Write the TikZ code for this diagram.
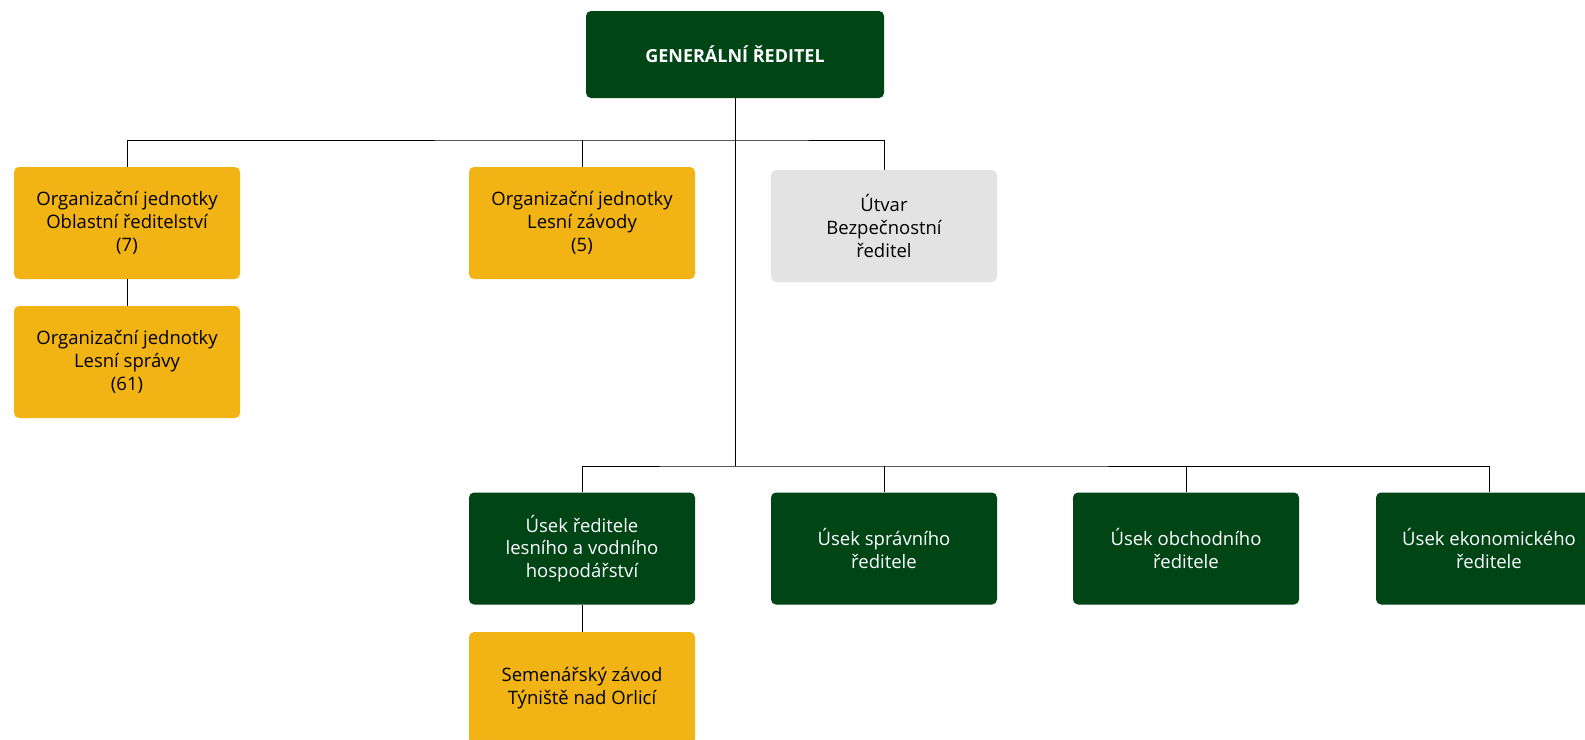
\documentclass[tikz,border=0pt]{standalone}
\usepackage{fontspec}
\setmainfont{Open Sans}
\definecolor{lcrgreen}{HTML}{004515}
\definecolor{lcryellow}{HTML}{F1B414}
\definecolor{lcrgray}{HTML}{E3E3E3}
\tikzset{
  unit/.style={rounded corners=5pt, minimum width=226pt, minimum height=112pt,
    align=center, font=\fontsize{18.5}{22.8}\selectfont, inner sep=0pt},
  greenbox/.style={unit, fill=lcrgreen, text=white},
  yellowbox/.style={unit, fill=lcryellow, text=black},
  graybox/.style={unit, fill=lcrgray, text=black},
  link/.style={draw=black, line width=0.9pt}
}
\begin{document}
\begin{tikzpicture}[x=1pt,y=-1pt]
\useasboundingbox (0,0) rectangle (1585,739);
% top
\node[greenbox, minimum width=298pt, minimum height=87pt, font=\fontsize{18}{20}\selectfont\bfseries] (gr) at (735,54.5) {GENERÁLNÍ ŘEDITEL};
% first row
\node[yellowbox] (ored) at (127,223) {Organizační jednotky\\Oblastní ředitelství\\(7)};
\node[yellowbox] (lsprav) at (127,362) {Organizační jednotky\\Lesní správy\\(61)};
\node[yellowbox] (lzav) at (582,223) {Organizační jednotky\\Lesní závody\\(5)};
\node[graybox] (bezp) at (884,226) {Útvar\\Bezpečnostní\\ředitel};
% second row
\node[greenbox] (ulvh) at (582,548.5) {Úsek ředitele\\lesního a vodního\\hospodářství};
\node[greenbox] (usprav) at (884,548.5) {Úsek správního\\ředitele};
\node[greenbox] (uobch) at (1186,548.5) {Úsek obchodního\\ředitele};
\node[greenbox] (uekon) at (1489,548.5) {Úsek ekonomického\\ředitele};
\node[yellowbox] (semen) at (582,688) {Semenářský závod\\Týniště nad Orlicí};
% connectors
\coordinate (topbus) at (735,140);
\coordinate (lowbus) at (735,466);
\draw[link] (gr.south) -- (lowbus);
\draw[link] (ored.north) |- (topbus) -| (bezp.north);
\draw[link] (lzav.north) -- (lzav.north |- topbus);
\draw[link] (ulvh.north) |- (lowbus) -| (uekon.north);
\draw[link] (usprav.north) -- (usprav.north |- lowbus);
\draw[link] (uobch.north) -- (uobch.north |- lowbus);
\draw[link] (ored) -- (lsprav);
\draw[link] (ulvh) -- (semen);
\end{tikzpicture}
\end{document}
